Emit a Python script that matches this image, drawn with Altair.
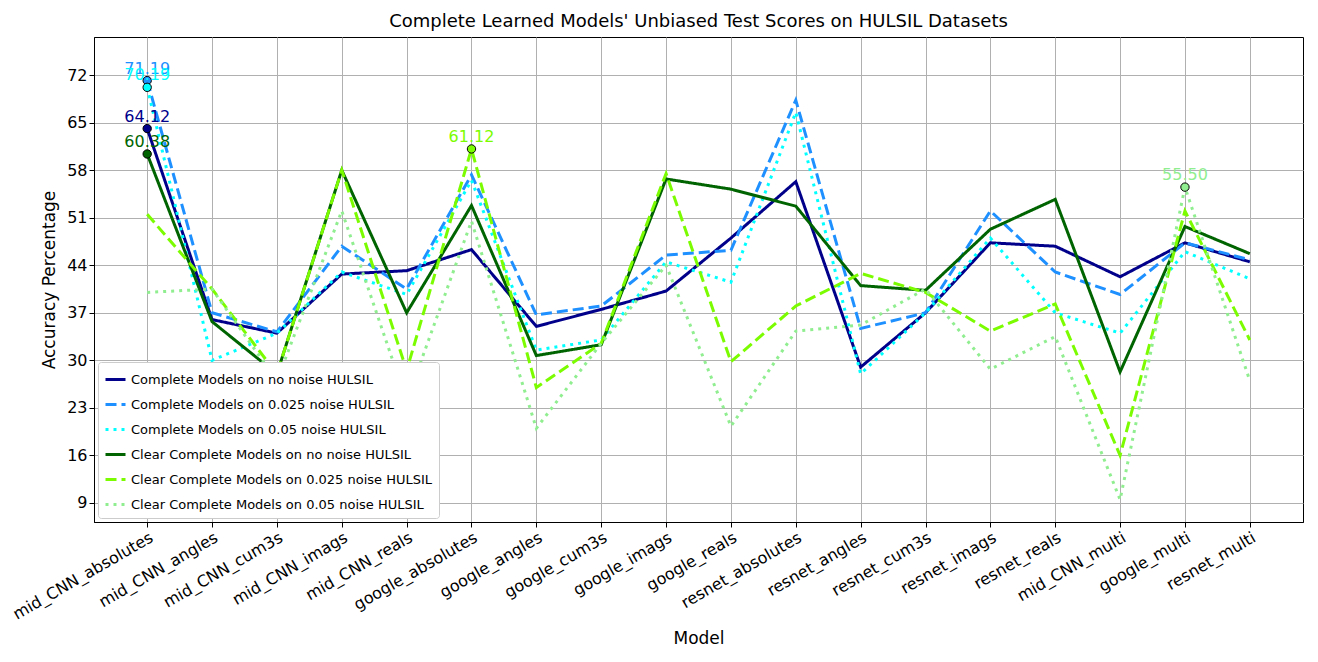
import altair as alt
import pandas as pd

models = ["mid_CNN_absolutes", "mid_CNN_angles", "mid_CNN_cum3s", "mid_CNN_imags", "mid_CNN_reals",
          "google_absolutes", "google_angles", "google_cum3s", "google_imags", "google_reals",
          "resnet_absolutes", "resnet_angles", "resnet_cum3s", "resnet_imags", "resnet_reals",
          "mid_CNN_multi", "google_multi", "resnet_multi"]

series_names = [
    "Complete Models on no noise HULSIL",
    "Complete Models on 0.025 noise HULSIL",
    "Complete Models on 0.05 noise HULSIL",
    "Clear Complete Models on no noise HULSIL",
    "Clear Complete Models on 0.025 noise HULSIL",
    "Clear Complete Models on 0.05 noise HULSIL",
]
colors = ["#00008b", "#1e90ff", "#00ffff", "#006400", "#7cfc00", "#90ee90"]
dashes = [[1, 0], [11, 5], [3, 5], [1, 0], [11, 5], [3, 5]]

complete_none = [64.12, 36.0, 34.0, 42.7, 43.2, 46.3, 35.0, 37.5, 40.2, 48.0, 56.3, 29.0, 37.0, 47.3, 46.8, 42.3, 47.3, 44.5]
complete_025 = [71.19, 37.0, 34.2, 46.8, 40.5, 57.3, 36.7, 38.0, 45.5, 46.2, 68.3, 34.7, 37.0, 52.0, 43.0, 39.7, 47.3, 44.8]
complete_05 = [70.19, 30.0, 34.0, 43.0, 39.7, 56.5, 31.5, 33.0, 44.5, 41.5, 66.5, 28.0, 37.0, 48.0, 37.0, 34.0, 46.0, 42.0]
clear_none = [60.38, 35.7, 28.0, 58.0, 37.0, 52.8, 30.7, 32.3, 56.7, 55.2, 52.7, 41.0, 40.3, 49.3, 53.7, 28.3, 49.7, 45.7]
clear_025 = [51.5, 40.5, 28.0, 58.0, 28.5, 61.12, 26.0, 32.5, 57.5, 29.8, 38.0, 42.8, 40.0, 34.3, 38.3, 16.0, 52.0, 33.0]
clear_05 = [40.0, 40.5, 27.0, 52.0, 24.0, 50.5, 20.0, 32.5, 44.0, 20.3, 34.3, 35.2, 40.5, 28.7, 33.5, 9.5, 55.5, 27.0]

all_series = [complete_none, complete_025, complete_05, clear_none, clear_025, clear_05]

rows = []
for name, vals in zip(series_names, all_series):
    for m, v in zip(models, vals):
        rows.append({"model": m, "score": v, "series": name})
df = pd.DataFrame(rows)

peaks = []
for name, vals, c in zip(series_names, all_series, colors):
    i = max(range(len(vals)), key=lambda k: vals[k])
    peaks.append({"model": models[i], "score": vals[i], "series": name, "label": f"{vals[i]:.2f}", "c": c})
peak_df = pd.DataFrame(peaks)

x = alt.X("model:N", sort=models, title="Model",
          scale=alt.Scale(type="point", padding=0.82),
          axis=alt.Axis(labelAngle=-30, labelAlign="right", labelBaseline="top",
                        labelFontSize=16, titleFontSize=17, titleFontWeight="normal",
                        grid=True, tickSize=5, titlePadding=8))
y = alt.Y("score:Q", title="Accuracy Percentage",
          scale=alt.Scale(domain=[6.2, 77.6], nice=False, zero=False),
          axis=alt.Axis(values=list(range(9, 73, 7)), labelFontSize=16, titleFontSize=17,
                        titleFontWeight="normal", grid=True, tickSize=5, titlePadding=8))

lines = alt.Chart(df).mark_line(strokeWidth=3).encode(
    x=x, y=y,
    color=alt.Color("series:N", sort=series_names,
                    scale=alt.Scale(domain=series_names, range=colors),
                    legend=alt.Legend(title=None, orient="bottom-left", symbolType="stroke",
                                      symbolStrokeWidth=3, symbolSize=400, labelFontSize=13,
                                      fillColor="white", strokeColor="#cccccc", padding=6,
                                      cornerRadius=3, offset=4, labelLimit=400, rowPadding=6)),
    strokeDash=alt.StrokeDash("series:N", sort=series_names,
                              scale=alt.Scale(domain=series_names, range=dashes), legend=None),
)

points = alt.Chart(peak_df).mark_circle(size=70, opacity=1, stroke="black", strokeWidth=1).encode(
    x=x, y=y, fill=alt.Color("c:N", scale=None)
)
labels = alt.Chart(peak_df).mark_text(fontSize=16, dy=-12, align="center").encode(
    x=x, y=y, text="label:N", color=alt.Color("c:N", scale=None)
)

chart = (lines + points + labels).properties(
    width=1300, height=644,
    autosize=alt.AutoSizeParams(type="fit", contains="padding"),
    title=alt.Title("Complete Learned Models' Unbiased Test Scores on HULSIL Datasets",
                    fontSize=18, fontWeight="normal", offset=6),
).configure(font="DejaVu Sans").configure_axis(
    gridColor="#b0b0b0", domainColor="black", tickColor="black", labelColor="black", titleColor="black"
).configure_view(stroke="black")

chart.save("out.html", embed_options={"renderer": "svg", "actions": False})
